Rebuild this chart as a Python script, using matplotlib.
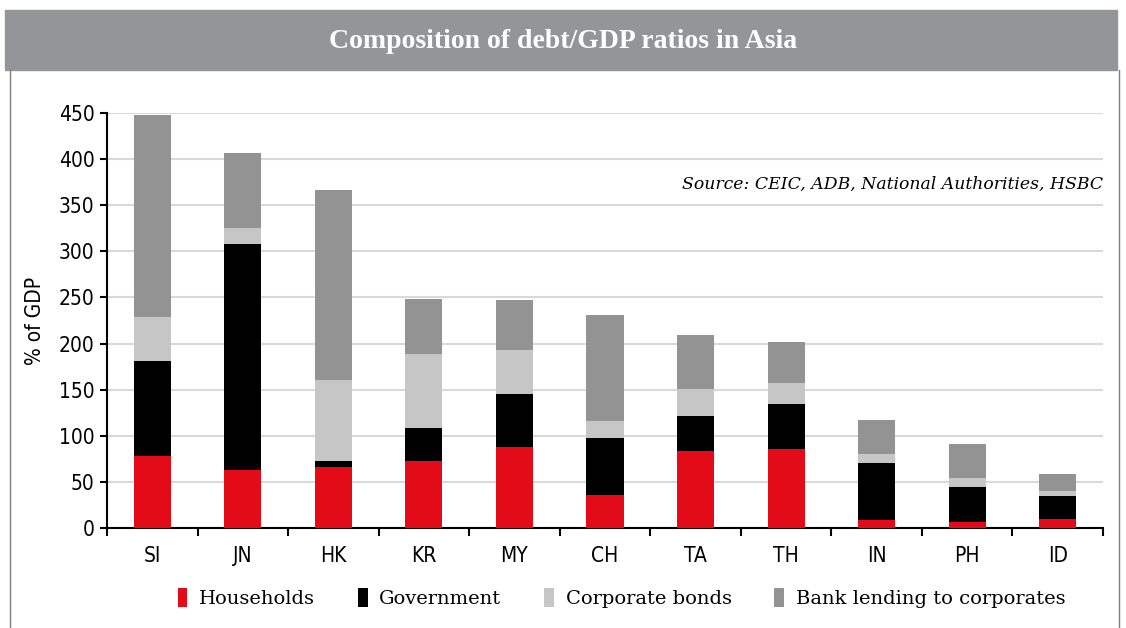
import numpy as np
import matplotlib.pyplot as plt
from matplotlib.patches import Patch, Rectangle
from matplotlib.lines import Line2D

countries = ['SI', 'JN', 'HK', 'KR', 'MY', 'CH', 'TA', 'TH', 'IN', 'PH', 'ID']
households = [78, 63, 66, 73, 88, 36, 84, 86, 9, 7, 10]
government = [103, 245, 7, 35, 57, 62, 37, 48, 62, 37, 25]
corp_bonds = [48, 17, 88, 81, 48, 18, 30, 23, 9, 10, 5]
bank_lending = [219, 82, 205, 59, 54, 115, 58, 45, 37, 37, 19]

series = [households, government, corp_bonds, bank_lending]
names = ['Households', 'Government', 'Corporate bonds', 'Bank lending to corporates']
colors = ['#e30b17', '#000000', '#c6c6c6', '#939393']

sans = ['DejaVu Sans']
serif = ['DejaVu Serif']

fig = plt.figure(figsize=(11.26, 6.28), dpi=100)

# title bar and frame
fig.patches.append(Rectangle((5/1126, 1-70/628), 1112/1126, 60/628,
                             transform=fig.transFigure, color='#939598', zorder=0))
fig.text(0.5, 1-42/628, 'Composition of debt/GDP ratios in Asia', color='white',
         fontsize=20, fontweight='bold', family=['Liberation Serif'],
         ha='center', va='center')
for xf in (10/1126, 1119/1126):
    fig.add_artist(Line2D([xf, xf], [0, 1-70/628], transform=fig.transFigure,
                          color='#7f7f7f', lw=1))

ax = fig.add_axes([107/1126, 100/628, 996/1126, 415/628])
x = np.arange(len(countries))
bottom = np.zeros(len(countries))
for vals, c in zip(series, colors):
    ax.bar(x, vals, width=0.41, bottom=bottom, color=c, linewidth=0, zorder=3)
    bottom += np.array(vals)

ax.set_xlim(-0.5, len(countries) - 0.5)
ax.set_ylim(0, 450)
ax.set_yticks(np.arange(0, 451, 50))
ax.yaxis.grid(True, color='#d9d9d9', lw=1.5, zorder=0)
ax.set_axisbelow(True)

ax.set_xticks(np.arange(-0.5, len(countries), 1))
ax.set_xticklabels([])
ax.set_xticks(x, minor=True)
ax.set_xticklabels(countries, minor=True, fontsize=15, family=sans, stretch='condensed')
ax.tick_params(axis='x', which='major', direction='out', length=6, width=1.5)
ax.tick_params(axis='x', which='minor', length=0, pad=13)
ax.tick_params(axis='y', direction='out', length=5, width=1.5, pad=4)
for lab in ax.get_yticklabels():
    lab.set_fontsize(15)
    lab.set_family(sans)
    lab.set_stretch('condensed')

for s in ('top', 'right'):
    ax.spines[s].set_visible(False)
ax.spines['left'].set_linewidth(1.5)
ax.spines['bottom'].set_linewidth(1.5)

ax.set_ylabel('% of GDP', fontsize=15, family=sans, stretch='condensed', labelpad=10)

ax.text(1.0, 0.828, 'Source: CEIC, ADB, National Authorities, HSBC', transform=ax.transAxes,
        ha='right', va='center', style='italic', fontsize=12.4, family=serif)

handles = [Patch(facecolor=c, edgecolor='none') for c in colors]
fig.legend(handles, names, loc='center', bbox_to_anchor=(0.552, 30/628), ncol=4,
           frameon=False, handlelength=0.5, handleheight=1.1, handletextpad=0.6,
           columnspacing=2.2, prop={'family': serif, 'size': 14})

fig.savefig('out.png', dpi=100)
